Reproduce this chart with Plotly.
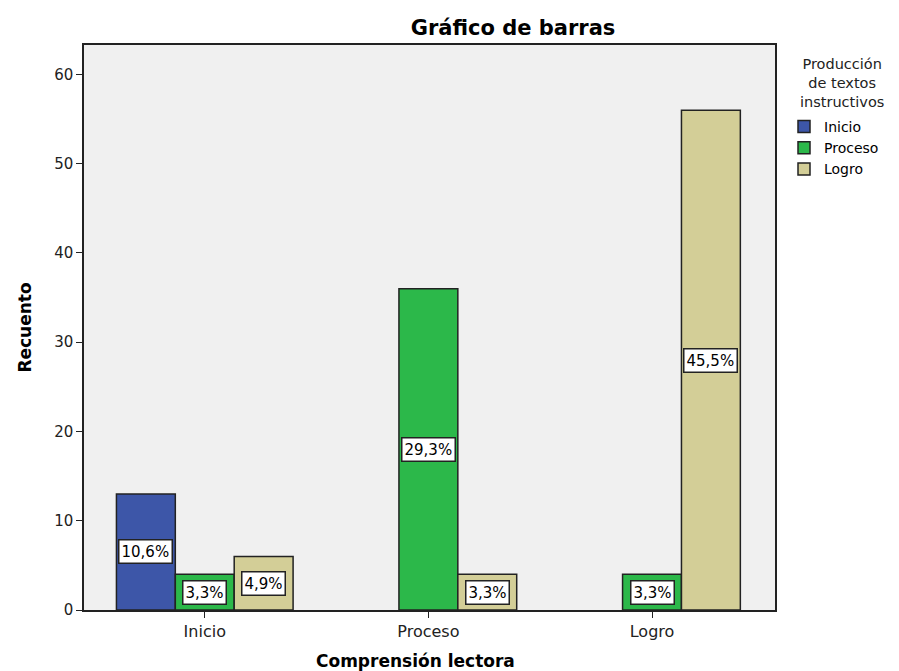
import plotly.graph_objects as go

categories = ["Inicio", "Proceso", "Logro"]
series_names = ["Inicio", "Proceso", "Logro"]
inicio_vals = [13, None, None]
proceso_vals = [4, 36, 4]
logro_vals = [6, 4, 56]
total_n = 123
colors = ["#3D56A8", "#2CB84A", "#D3CE97"]

series_vals = [inicio_vals, proceso_vals, logro_vals]
FONT = "DejaVu Sans, sans-serif"
TXT = "#222222"

# figure-space plot box (page shows a ~7px offset)
L, T, R, B = 76, 37, 132, 69
PW = 899 - L - R
PH = 671 - T - B


def px_x(fx):
    return (fx - L) / PW


def px_y(fy):
    return (671 - B - fy) / PH


fig = go.Figure()
for name, vals, col in zip(series_names, series_vals, colors):
    fig.add_trace(go.Bar(
        x=categories, y=vals, name=name,
        marker=dict(color=col, line=dict(color="#222222", width=1.5)),
    ))

bargap = 0.21
bw = (1 - bargap) / 3
annotations = []
for si, vals in enumerate(series_vals):
    for ci, v in enumerate(vals):
        if v is None:
            continue
        pct = f"{v / total_n * 100:.1f}%".replace(".", ",")
        annotations.append(dict(
            x=ci + (si - 1) * bw, y=v / 2, xref="x", yref="y",
            text=pct, showarrow=False,
            font=dict(family=FONT, size=15, color="black"),
            bgcolor="white", bordercolor="#222222", borderwidth=1.5, borderpad=2,
        ))

# legend title, centred lines
annotations.append(dict(
    x=px_x(834), y=px_y(46), xref="paper", yref="paper", xanchor="center", yanchor="top",
    text="Producción<br>de textos<br>instructivos", align="center", showarrow=False,
    font=dict(family=FONT, size=14.5, color=TXT),
))
# x-axis title
annotations.append(dict(
    x=px_x(407), y=px_y(653), xref="paper", yref="paper", xanchor="center", yanchor="middle",
    text="<b>Comprensión lectora</b>", showarrow=False,
    font=dict(family=FONT, size=17, color="black"),
))

fig.update_layout(
    width=899, height=671,
    margin=dict(l=L, r=R, t=T, b=B, autoexpand=False),
    paper_bgcolor="white", plot_bgcolor="#F0F0F0",
    barmode="group", bargap=bargap, bargroupgap=0,
    font=dict(family=FONT, size=15, color=TXT),
    title=dict(text="<b>Gráfico de barras</b>", x=505 / 899, xanchor="center",
               y=1 - 20 / 671, yanchor="middle", xref="container", yref="container",
               font=dict(family=FONT, size=21, color="black")),
    xaxis=dict(
        range=[-0.54, 2.55], showline=True, linecolor="#222222", linewidth=1.5, mirror=True,
        ticks="outside", ticklen=6, tickcolor="#222222", showgrid=False,
        tickfont=dict(family=FONT, size=16, color=TXT),
    ),
    yaxis=dict(
        range=[0, 63.3], tickvals=[0, 10, 20, 30, 40, 50, 60],
        showline=True, linecolor="#222222", linewidth=1.5, mirror=True,
        ticks="outside", ticklen=6, tickcolor="#222222", showgrid=False, zeroline=False,
        tickfont=dict(family=FONT, size=15, color=TXT),
        title=dict(text="<b>Recuento</b>", standoff=18,
                   font=dict(family=FONT, size=17, color="black")),
    ),
    showlegend=True,
    legend=dict(
        x=px_x(776), xanchor="left", y=px_y(103), yanchor="top",
        bgcolor="rgba(0,0,0,0)",
        font=dict(family=FONT, size=14, color="black"),
        itemwidth=30, tracegroupgap=0,
    ),
    annotations=annotations,
)

fig.write_html("out.html")
